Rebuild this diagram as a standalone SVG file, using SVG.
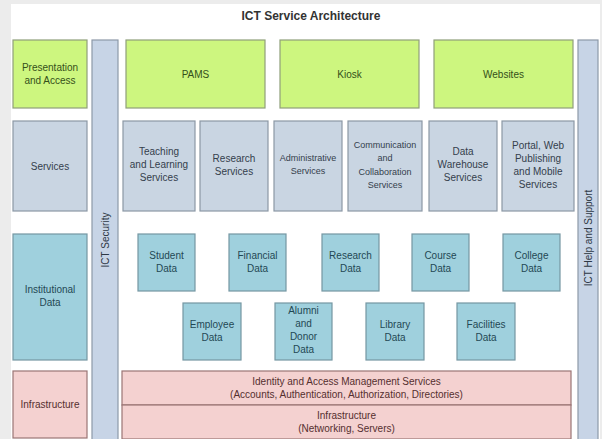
<svg xmlns="http://www.w3.org/2000/svg" width="602" height="439" viewBox="0 0 602 439">
<style>
text{font-family:"Liberation Sans",Arial,sans-serif;font-size:10px;text-anchor:middle}
.sm{font-size:9px}
.title{font-size:12px;font-weight:bold;fill:#333}
.g rect{fill:#cdf67f;stroke:#8f9f7a;stroke-width:1.2}
.g text{fill:#34501a}
.s rect{fill:#c9d5e2;stroke:#8c98a5;stroke-width:1.2}
.s text{fill:#34404c}
.d rect{fill:#9fd0dd;stroke:#7597a2;stroke-width:1.2}
.d text{fill:#1f4854}
.p rect{fill:#f4d1d0;stroke:#9a7575;stroke-width:1.2}
.p text{fill:#552f2f}
.b rect{fill:#c7d4e6;stroke:#8d99a8;stroke-width:1.2}
.b text{fill:#2e3845}
</style>
<rect x="0" y="0" width="602" height="439" fill="#ececec"/>
<rect x="11" y="4" width="589" height="435" fill="#ffffff"/>
<text class="title" x="311" y="20">ICT Service Architecture</text>

<g id="presentation-access" class="g"><rect x="13" y="40" width="74" height="68"/><text x="50" y="70.5">Presentation</text><text x="50" y="83.5">and Access</text></g>
<g id="services-layer" class="s"><rect x="13" y="121" width="74" height="90"/><text x="50" y="169.5">Services</text></g>
<g id="institutional-data" class="d"><rect x="13" y="234" width="74" height="126"/><text x="50" y="292.5">Institutional</text><text x="50" y="305.5">Data</text></g>
<g id="infrastructure-layer" class="p"><rect x="13" y="371" width="74" height="67"/><text x="50" y="408">Infrastructure</text></g>

<g id="ict-security" class="b"><rect x="92" y="40" width="26" height="400"/><text transform="translate(108.5 240) rotate(-90)">ICT Security</text></g>
<g id="ict-help" class="b"><rect x="578" y="40" width="20" height="400"/><text transform="translate(591.5 238) rotate(-90)">ICT Help and Support</text></g>

<g id="pams" class="g"><rect x="126" y="40" width="139" height="68"/><text x="195.5" y="77.5">PAMS</text></g>
<g id="kiosk" class="g"><rect x="280" y="40" width="139" height="68"/><text x="349.5" y="77.5">Kiosk</text></g>
<g id="websites" class="g"><rect x="434" y="40" width="139" height="68"/><text x="503.5" y="77.5">Websites</text></g>

<g id="teaching" class="s"><rect x="123" y="121" width="72" height="90"/><text x="159" y="155">Teaching</text><text x="159" y="168">and Learning</text><text x="159" y="181">Services</text></g>
<g id="research-services" class="s"><rect x="200" y="121" width="68" height="90"/><text x="234" y="161.5">Research</text><text x="234" y="174.5">Services</text></g>
<g id="administrative" class="s"><rect x="274" y="121" width="68" height="90"/><text class="sm" x="308" y="161">Administrative</text><text class="sm" x="308" y="174">Services</text></g>
<g id="communication" class="s"><rect x="348" y="121" width="74" height="90"/><text class="sm" x="385" y="148">Communication</text><text class="sm" x="385" y="161">and</text><text class="sm" x="385" y="174.5">Collaboration</text><text class="sm" x="385" y="188">Services</text></g>
<g id="data-warehouse" class="s"><rect x="429" y="121" width="68" height="90"/><text x="463" y="155">Data</text><text x="463" y="168">Warehouse</text><text x="463" y="181">Services</text></g>
<g id="portal" class="s"><rect x="502" y="121" width="72" height="90"/><text x="538" y="148.5">Portal, Web</text><text x="538" y="161.5">Publishing</text><text x="538" y="174.5">and Mobile</text><text x="538" y="187.5">Services</text></g>

<g id="student-data" class="d"><rect x="138" y="234" width="57" height="57"/><text x="166.5" y="258.5">Student</text><text x="166.5" y="271.5">Data</text></g>
<g id="financial-data" class="d"><rect x="229" y="234" width="57" height="57"/><text x="257.5" y="258.5">Financial</text><text x="257.5" y="271.5">Data</text></g>
<g id="research-data" class="d"><rect x="322" y="234" width="57" height="57"/><text x="350.5" y="258.5">Research</text><text x="350.5" y="271.5">Data</text></g>
<g id="course-data" class="d"><rect x="412" y="234" width="57" height="57"/><text x="440.5" y="258.5">Course</text><text x="440.5" y="271.5">Data</text></g>
<g id="college-data" class="d"><rect x="503" y="234" width="57" height="57"/><text x="531.5" y="258.5">College</text><text x="531.5" y="271.5">Data</text></g>

<g id="employee-data" class="d"><rect x="183" y="303" width="58" height="57"/><text x="212" y="327.5">Employee</text><text x="212" y="340.5">Data</text></g>
<g id="alumni-data" class="d"><rect x="275" y="303" width="57" height="57"/><text x="303.5" y="314">Alumni</text><text x="303.5" y="327">and</text><text x="303.5" y="340">Donor</text><text x="303.5" y="353">Data</text></g>
<g id="library-data" class="d"><rect x="366" y="303" width="58" height="57"/><text x="395" y="327.5">Library</text><text x="395" y="340.5">Data</text></g>
<g id="facilities-data" class="d"><rect x="457" y="303" width="58" height="57"/><text x="486" y="327.5">Facilities</text><text x="486" y="340.5">Data</text></g>

<g id="iam" class="p"><rect x="122" y="371" width="449" height="34"/><text x="346.5" y="384.5">Identity and Access Management Services</text><text x="346.5" y="397.5">(Accounts, Authentication, Authorization, Directories)</text></g>
<g id="infrastructure" class="p"><rect x="122" y="405" width="449" height="34"/><text x="346.5" y="418.5">Infrastructure</text><text x="346.5" y="431.5">(Networking, Servers)</text></g>

<g id="connectors"></g>
</svg>
